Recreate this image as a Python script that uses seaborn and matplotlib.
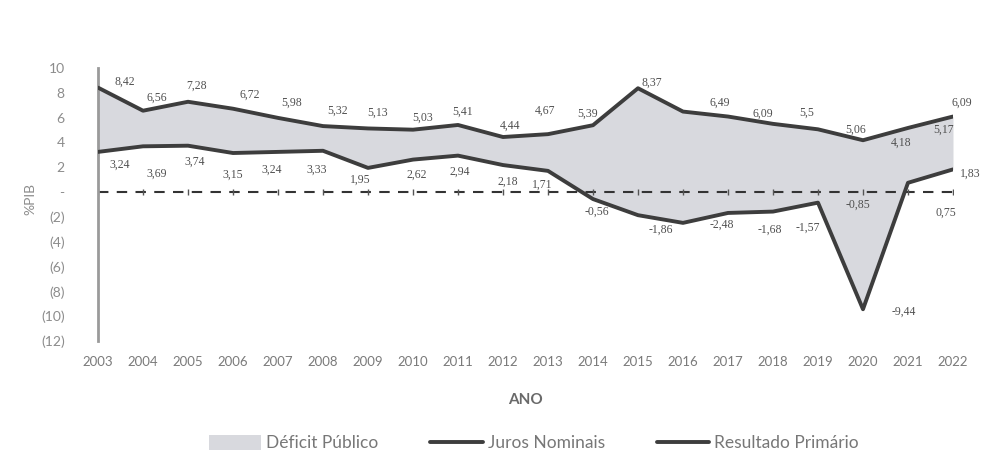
import matplotlib
matplotlib.use("Agg")
import matplotlib.pyplot as plt
from matplotlib.patches import Patch
from matplotlib.lines import Line2D
import seaborn as sns
import pandas as pd

# Série anual 2003-2022 (% do PIB)
anos = list(range(2003, 2023))
juros_nominais = [8.42, 6.56, 7.28, 6.72, 5.98, 5.32, 5.13, 5.03, 5.41, 4.44,
                  4.67, 5.39, 8.37, 6.49, 6.09, 5.5, 5.06, 4.18, 5.17, 6.09]
resultado_primario = [3.24, 3.69, 3.74, 3.15, 3.24, 3.33, 1.95, 2.62, 2.94, 2.18,
                      1.71, -0.56, -1.86, -2.48, -1.68, -1.57, -0.85, -9.44, 0.75, 1.83]
y_ticks = [10, 8, 6, 4, 2, 0, -2, -4, -6, -8, -10, -12]

# deslocamento dos rótulos (pixels) em relação a cada ponto
off_juros = [(27, 6), (14, 13), (9, 16), (17, 14), (14, 15), (15, 15), (10, 16),
             (10, 12), (5, 13), (7, 11), (-3, 23), (-5, 11), (14, 6), (37, 9),
             (35, 3), (34, 11), (38, 0), (38, -3), (36, -2), (9, 14)]
off_prim = [(22, -13), (14, -27), (7, -16), (0, -22), (-6, -18), (-6, -19),
            (-8, -12), (4, -15), (2, -16), (5, -17), (-6, -14), (4, -13),
            (23, -15), (39, -2), (42, -17), (35, -16), (40, -2), (41, -3),
            (38, -30), (17, -4)]

df = pd.DataFrame({
    "ano": anos * 2,
    "valor": juros_nominais + resultado_primario,
    "serie": ["Juros Nominais"] * len(anos) + ["Resultado Primário"] * len(anos),
})

sns.set_theme(style="white")
plt.rcParams["font.family"] = ["Lato", "DejaVu Sans"]

linha = "#3d3d3d"
cinza_txt = "#8c8c8c"
preenchimento = "#d8d9de"
fonte_valores = ["Liberation Serif", "DejaVu Serif"]

fig = plt.figure(figsize=(9.85, 4.74), dpi=100)
ax = fig.add_axes([0.0995, 0.2806, 0.868, 0.5759])

ax.fill_between(anos, juros_nominais, resultado_primario, color=preenchimento,
                linewidth=0, zorder=1)
sns.lineplot(data=df, x="ano", y="valor", hue="serie", palette=[linha, linha],
             linewidth=2.8, legend=False, ax=ax, zorder=3)

# linha do zero tracejada com pequenas marcas anuais
ax.axhline(0, color="#333333", linestyle=(0, (5, 4)), linewidth=1.5, zorder=2)
ax.plot(anos, [0] * len(anos), linestyle="none", marker="|", markersize=5,
        color="#555555", zorder=2)


def rotulo_valor(v):
    return f"{v:g}".replace(".", ",")


for serie, offs in ((juros_nominais, off_juros), (resultado_primario, off_prim)):
    for x, v, (dx, dy) in zip(anos, serie, offs):
        ax.annotate(rotulo_valor(v), (x, v), xytext=(dx, dy),
                    textcoords="offset pixels", ha="center", va="center",
                    fontsize=8.5, color="#505050", family=fonte_valores, zorder=4)


def rotulo_y(v):
    if v == 0:
        return "-"
    return f"({abs(v)})" if v < 0 else f"{v}"


ax.set_xlim(2003, 2022)
ax.set_ylim(-12, 10)
ax.set_yticks(y_ticks)
ax.set_yticklabels([rotulo_y(v) for v in y_ticks])
ax.set_xticks(anos)
ax.set_xticklabels([str(a) for a in anos])
ax.tick_params(axis="y", length=0, pad=24, labelsize=10, labelcolor=cinza_txt)
ax.tick_params(axis="x", length=0, pad=11, labelsize=9.5, labelcolor="#7a7a7a")

for lado in ["top", "right", "bottom"]:
    ax.spines[lado].set_visible(False)
ax.spines["left"].set_color("#9a9a9a")
ax.spines["left"].set_linewidth(2)

ax.set_xlabel("ANO", fontsize=11, fontweight="bold", color="#6a6a6a", labelpad=18)
ax.set_ylabel("%PIB", fontsize=10, color=cinza_txt, labelpad=14)
ax.yaxis.set_label_coords(-0.072, 0.52)

handles = [
    Patch(facecolor=preenchimento, edgecolor="none"),
    Line2D([0], [0], color=linha, linewidth=2.8),
    Line2D([0], [0], color=linha, linewidth=2.8),
]
fig.legend(handles, ["Déficit Público", "Juros Nominais", "Resultado Primário"],
           loc="center", bbox_to_anchor=(0.542, 0.065), ncol=3, frameon=False,
           fontsize=12.5, labelcolor="#777777", handlelength=3.0,
           handleheight=0.9, columnspacing=3.0, handletextpad=0.3)

fig.savefig("out.png", dpi=100, facecolor="white")
